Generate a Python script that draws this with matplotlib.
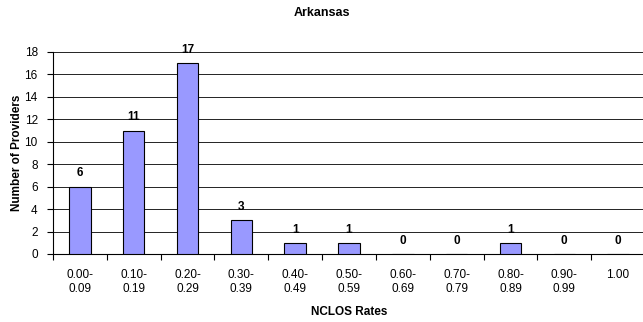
import matplotlib
matplotlib.use("Agg")
import matplotlib.pyplot as plt
import numpy as np

plt.rcParams['font.family'] = ['Liberation Sans', 'DejaVu Sans']

categories = ["0.00-\n0.09", "0.10-\n0.19", "0.20-\n0.29", "0.30-\n0.39", "0.40-\n0.49",
              "0.50-\n0.59", "0.60-\n0.69", "0.70-\n0.79", "0.80-\n0.89", "0.90-\n0.99", "1.00"]
providers = [6, 11, 17, 3, 1, 1, 0, 0, 1, 0, 0]
y_ticks = [0, 2, 4, 6, 8, 10, 12, 14, 16, 18]

fs = 8.5

fig = plt.figure(figsize=(6.43, 3.22), dpi=100)
ax = fig.add_axes([53/643, 1 - 254/322, 592/643, 202/322])

x = np.arange(len(categories))
ax.bar(x, providers, width=0.4, color='#9999FF', edgecolor='black', linewidth=0.8, zorder=3)

for xi, v in zip(x, providers):
    ax.annotate(str(v), (xi, v), xytext=(0, 9.5), textcoords='offset points',
                ha='center', va='center', fontsize=fs, fontweight='bold')

ax.set_xlim(-0.5, len(categories) - 0.5)
ax.set_ylim(0, 18)
ax.set_yticks(y_ticks)
ax.yaxis.grid(True, color='black', linewidth=0.6, zorder=0)
ax.set_axisbelow(True)

ax.set_xticks(x)
ax.set_xticklabels(categories, fontsize=fs)
ax.set_xticks(np.arange(-0.5, len(categories), 1), minor=True)
ax.tick_params(axis='x', which='major', length=0, pad=11)
ax.tick_params(axis='x', which='minor', length=4, width=0.8, direction='out')
ax.tick_params(axis='y', length=4, width=0.8, direction='out', labelsize=fs, pad=7)

for s in ['top', 'right']:
    ax.spines[s].set_visible(False)
ax.spines['left'].set_linewidth(0.8)
ax.spines['bottom'].set_linewidth(0.8)

ax.set_ylabel("Number of Providers", fontsize=fs, fontweight='bold', labelpad=1)
ax.set_xlabel("NCLOS Rates", fontsize=fs, fontweight='bold', labelpad=8)
fig.text(0.5, 1 - 13/322, "Arkansas", ha='center', va='center', fontsize=9, fontweight='bold')

fig.savefig("out.png", dpi=100)
